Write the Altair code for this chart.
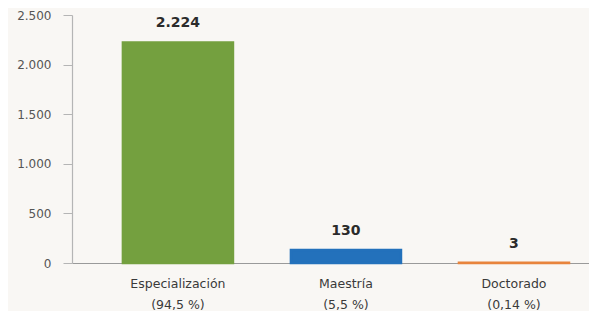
import altair as alt
import pandas as pd

categories = ["Especialización", "Maestría", "Doctorado"]
shares = ["(94,5 %)", "(5,5 %)", "(0,14 %)"]
values = [2224, 130, 3]
value_labels = ["2.224", "130", "3"]
colors = ["#74a03f", "#2371bb", "#e8843c"]
y_ticks = [0, 500, 1000, 1500, 2000, 2500]

df = pd.DataFrame({
    "cat": [c + "|" + s for c, s in zip(categories, shares)],
    "value": values,
    "label": value_labels,
    "color": colors,
})
order = list(df["cat"])

x = alt.X("cat:N", sort=order, title=None,
          scale=alt.Scale(paddingInner=0.345, paddingOuter=0.211, align=0.718),
          axis=alt.Axis(labelExpr="split(datum.label, '|')", labelAngle=0,
                        labelFont="DejaVu Sans", labelFontSize=12.5, labelColor="#3a3a3a",
                        labelLineHeight=21, labelPadding=20, ticks=False,
                        domainColor="#9a9a9a", domainWidth=1.2, labelBaseline="middle"))
y = alt.Y("value:Q", title=None,
          scale=alt.Scale(domain=[0, 2500], nice=False),
          axis=alt.Axis(values=y_ticks, labelExpr="replace(format(datum.value, ','), ',', '.')",
                        labelFont="DejaVu Sans", labelFontSize=12, labelColor="#555555",
                        tickColor="#b5b5b5", tickSize=9, labelPadding=12,
                        domainColor="#b5b5b5", domainWidth=1.2, grid=False))

bars = alt.Chart(df).mark_bar(strokeWidth=2.5).encode(
    x=x, y=y,
    color=alt.Color("color:N", scale=None),
    stroke=alt.Stroke("color:N", scale=None),
)
labels = alt.Chart(df).mark_text(font="DejaVu Sans", fontSize=14, fontWeight="bold",
                                 color="#2b2b2b", dy=-19, baseline="middle").encode(
    x=alt.X("cat:N", sort=order), y="value:Q", text="label:N")

chart = alt.layer(bars, labels).properties(
    width=517, height=248,
    autosize=alt.AutoSizeParams(type="none"),
    padding={"left": 64, "top": 7, "right": 0, "bottom": 48},
    background="#f9f7f4",
).configure_view(stroke=None)

chart.save("out.html", embed_options={"renderer": "svg", "actions": False})
